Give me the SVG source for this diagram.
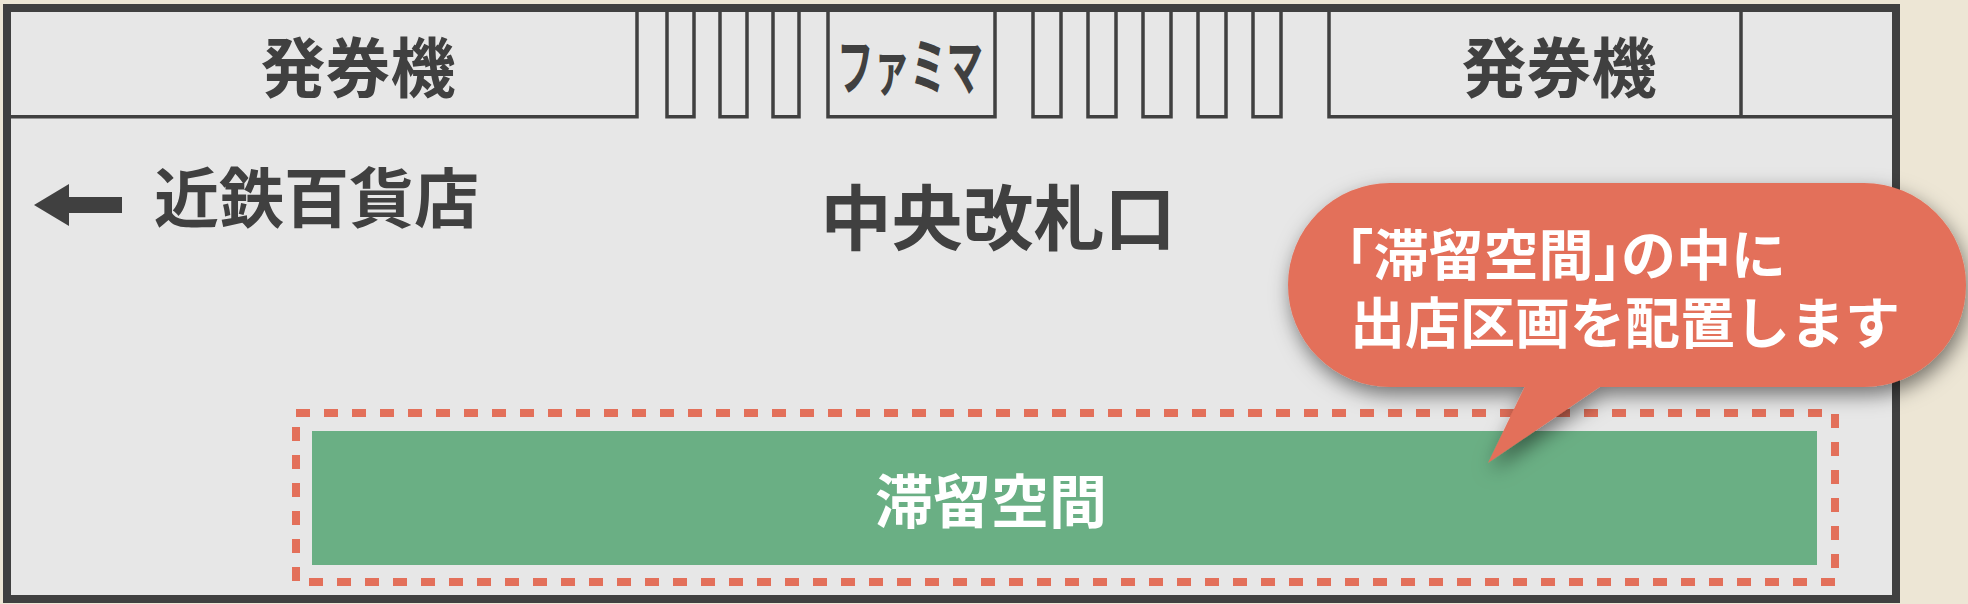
<svg xmlns="http://www.w3.org/2000/svg" width="1968" height="604" viewBox="0 0 1968 604">
<style>
.ln{fill:none;stroke:#404040;stroke-width:3.5}
.t{font-family:"Noto Sans CJK JP","Noto Sans CJK SC",sans-serif;font-weight:700;fill:#404040}
.w{font-family:"Noto Sans CJK JP","Noto Sans CJK SC",sans-serif;font-weight:700;fill:#ffffff}
.halt{font-feature-settings:"halt" 1}
</style>
<defs>
<filter id="sh" x="-10%" y="-20%" width="130%" height="160%">
<feDropShadow dx="3" dy="8" stdDeviation="10" flood-color="#000" flood-opacity="0.5"/>
</filter>
</defs>
<rect x="0" y="0" width="1968" height="604" fill="#EDE6D5"/>
<g id="frame">
<rect x="7" y="8" width="1889" height="591" fill="#E7E7E7" stroke="#404040" stroke-width="8"/>
</g>
<g id="top-row">
<path class="ln" d="M7 116.7H637V8"/>
<path class="ln" d="M667 8V116.7H694V8 M720 8V116.7H747V8 M773 8V116.7H799V8"/>
<path class="ln" d="M828 8V116.7H995V8"/>
<path class="ln" d="M1033 8V116.7H1061V8 M1088 8V116.7H1116V8 M1143 8V116.7H1171V8 M1198 8V116.7H1226V8 M1253 8V116.7H1281V8"/>
<path class="ln" d="M1329 8V116.7H1896 M1741 8V116.7"/>
</g>
<g id="ticket-left"><text class="t" x="358" y="92" font-size="65" text-anchor="middle">発券機</text></g>
<g id="famima"><text class="t" x="837" y="90" font-size="62" textLength="146" lengthAdjust="spacingAndGlyphs">ファミマ</text></g>
<g id="ticket-right"><text class="t" x="1559" y="92" font-size="65" text-anchor="middle">発券機</text></g>
<g id="kintetsu">
<polygon points="34,205 69,184 69,226" fill="#404040"/>
<rect x="68" y="197" width="54" height="16" fill="#404040"/>
<text class="t" x="154" y="222" font-size="65">近鉄百貨店</text>
</g>
<g id="gate"><text class="t" x="998" y="244" font-size="71" text-anchor="middle">中央改札口</text></g>
<g id="stay-area">
<rect x="296" y="413" width="1539" height="169" fill="none" stroke="#E3705A" stroke-width="8" stroke-dasharray="14 14"/>
<rect x="312" y="431" width="1505" height="134" fill="#6AAF84"/>
<text class="w" x="991" y="523" font-size="58" text-anchor="middle">滞留空間</text>
</g>
<g id="callout">
<g filter="url(#sh)">
<rect x="1288" y="183" width="678" height="204" rx="102" fill="#E3705A"/>
<polygon points="1528,380 1610,380 1488,463" fill="#E3705A"/>
</g>
<text class="w halt" font-size="55" x="1346" y="275">「滞留空間」の中に</text>
<text class="w" font-size="55" x="1350" y="343">出店区画を配置します</text>
</g>
</svg>
